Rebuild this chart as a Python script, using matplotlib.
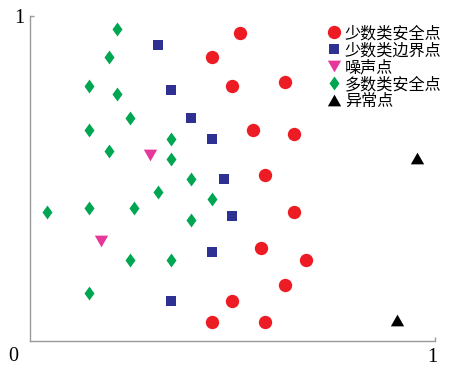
import matplotlib
matplotlib.use("Agg")
import matplotlib.pyplot as plt
import matplotlib.transforms as mtransforms
from matplotlib.lines import Line2D

plt.rcParams['font.family'] = ['Noto Sans CJK SC', 'DejaVu Sans']

# Point classes (x, y in the unit square)
minority_safe_x = [0.519, 0.449, 0.499, 0.631, 0.550, 0.652, 0.581,
                   0.652, 0.571, 0.682, 0.631, 0.499, 0.449, 0.581]
minority_safe_y = [0.947, 0.873, 0.786, 0.798, 0.649, 0.636, 0.511,
                   0.398, 0.286, 0.249, 0.173, 0.124, 0.060, 0.060]

minority_border_x = [0.318, 0.348, 0.398, 0.449, 0.480, 0.499, 0.449, 0.348]
minority_border_y = [0.911, 0.773, 0.686, 0.623, 0.498, 0.386, 0.275, 0.124]

noise_x = [0.297, 0.176]
noise_y = [0.573, 0.309]

majority_safe_x = [0.217, 0.196, 0.146, 0.217, 0.247, 0.146, 0.348, 0.196,
                   0.348, 0.398, 0.318, 0.449, 0.044, 0.146, 0.257, 0.398,
                   0.247, 0.348, 0.146]
majority_safe_y = [0.960, 0.873, 0.786, 0.760, 0.685, 0.649, 0.623, 0.586,
                   0.560, 0.498, 0.460, 0.437, 0.398, 0.411, 0.411, 0.373,
                   0.249, 0.249, 0.148]

outlier_x = [0.955, 0.906]
outlier_y = [0.564, 0.065]

labels = ['少数类安全点', '少数类边界点', '噪声点', '多数类安全点', '异常点']

RED = '#ED1C24'
BLUE = '#2E3192'
MAGENTA = '#E5389A'
GREEN = '#00A651'
BLACK = '#000000'

# custom marker shapes
diamond = [(0, 1), (0.72, 0), (0, -1), (-0.72, 0), (0, 1)]
tri_down = [(-1, 0.88), (1, 0.88), (0, -0.88), (-1, 0.88)]
tri_up = [(-1, -0.88), (1, -0.88), (0, 0.88), (-1, -0.88)]

styles = [
    dict(marker='o', color=RED, ms=9.6),
    dict(marker='s', color=BLUE, ms=6.5),
    dict(marker=tri_down, color=MAGENTA, ms=9.6),
    dict(marker=diamond, color=GREEN, ms=10.0),
    dict(marker=tri_up, color=BLACK, ms=9.6),
]
series = [
    (minority_safe_x, minority_safe_y),
    (minority_border_x, minority_border_y),
    (noise_x, noise_y),
    (majority_safe_x, majority_safe_y),
    (outlier_x, outlier_y),
]

fig = plt.figure(figsize=(4.56, 3.67), dpi=100)
ax = fig.add_axes([29.5 / 456, 1 - 341.3 / 367, (435 - 29.5) / 456, (341.3 - 16) / 367])

for (xs, ys), st in zip(series, styles):
    ax.plot(xs, ys, linestyle='none', marker=st['marker'], color=st['color'],
            markersize=st['ms'], markeredgewidth=0, clip_on=False)

ax.set_xlim(0, 1)
ax.set_ylim(0, 1)

for side in ('top', 'right'):
    ax.spines[side].set_visible(False)
for side in ('left', 'bottom'):
    ax.spines[side].set_color('#9a9a9a')
    ax.spines[side].set_linewidth(1.0)

ax.set_xticks([1])
ax.set_yticks([1])
ax.set_xticklabels(['1'], family='Liberation Serif', fontsize=14.5)
ax.set_yticklabels(['1'], family='Liberation Serif', fontsize=14.5)
ax.tick_params(axis='both', direction='in', length=3, width=1.0, color='#9a9a9a')
ax.tick_params(axis='x', pad=5)
ax.tick_params(axis='y', pad=4)

# nudge the right-hand "1" slightly inward
shift = mtransforms.ScaledTranslation(-3 / 100, 0, fig.dpi_scale_trans)
for lbl in ax.get_xticklabels():
    lbl.set_transform(lbl.get_transform() + shift)

ax.annotate('0', xy=(0, 0), xycoords='axes fraction', xytext=(-11.5, -10.8),
            textcoords='offset points', ha='center', va='center',
            family='Liberation Serif', fontsize=14.5)

handles = [Line2D([], [], linestyle='none', marker=st['marker'], color=st['color'],
                  markersize=st['ms'], markeredgewidth=0) for st in styles]
fig.legend(handles, labels, loc='upper left', bbox_to_anchor=(328.0 / 456, 1 - 25 / 367),
           frameon=False, fontsize=11.6, handlelength=0.8, handletextpad=0.25,
           labelspacing=0.0, borderpad=0, borderaxespad=0)

fig.savefig('out.png', dpi=100)
